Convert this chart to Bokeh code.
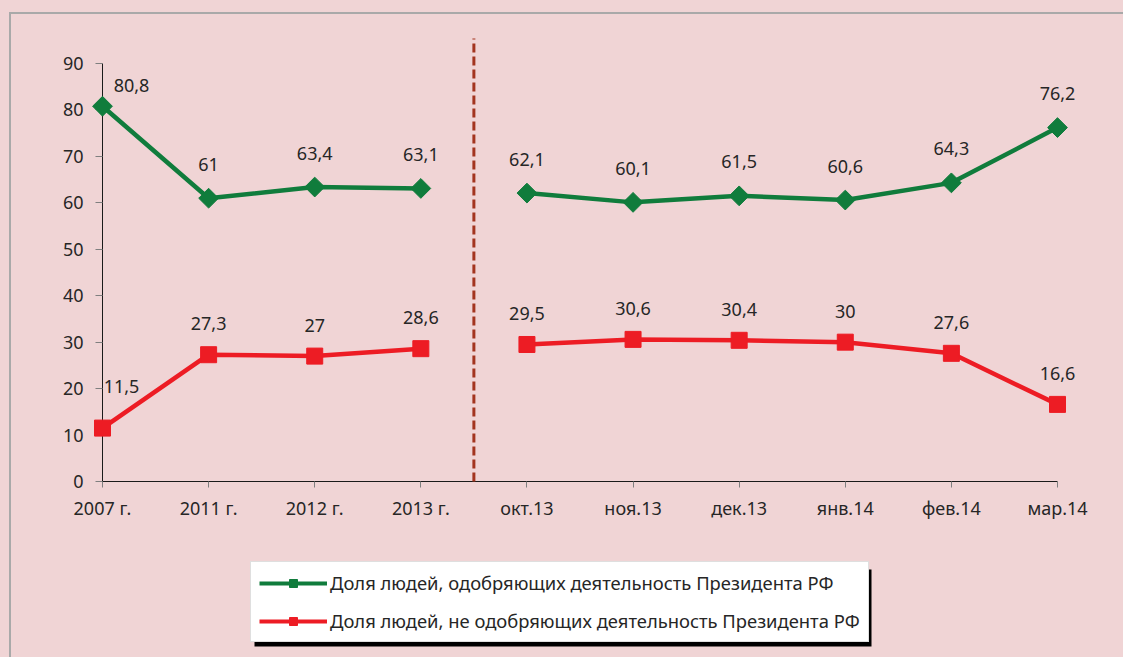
import math
from bokeh.plotting import figure
from bokeh.layouts import column
from bokeh.models import Range1d, FixedTicker, Legend, LegendItem, ColumnDataSource, BoxAnnotation
from bokeh.core.properties import value
from bokeh.embed import file_html
from bokeh.resources import INLINE

# ---------------- data ----------------
categories = ["2007 г.", "2011 г.", "2012 г.", "2013 г.", "окт.13",
              "ноя.13", "дек.13", "янв.14", "фев.14", "мар.14"]
approve = [80.8, 61.0, 63.4, 63.1, 62.1, 60.1, 61.5, 60.6, 64.3, 76.2]
disapprove = [11.5, 27.3, 27.0, 28.6, 29.5, 30.6, 30.4, 30.0, 27.6, 16.6]
approve_name = "Доля людей, одобряющих деятельность Президента РФ"
disapprove_name = "Доля людей, не одобряющих деятельность Президента РФ"
y_ticks = [0, 10, 20, 30, 40, 50, 60, 70, 80, 90]
break_after = 3          # series are interrupted between "2013 г." and "окт.13"

# ---------------- style ----------------
BG = "#F0D4D5"
GREEN = "#107C3C"
RED = "#ED1C24"
DASH = "#A3341F"
TEXT = "#262626"
FONT = "Noto Sans"
FS = "18px"
W = 1120
FRAME_L, FRAME_R = 102, 1057

xs = list(range(len(categories)))


def fmt(v):
    return f"{v:g}".replace(".", ",")


p = figure(width=W, height=535, output_backend="svg", toolbar_location=None,
           x_range=Range1d(0, len(categories) - 1), y_range=Range1d(y_ticks[0], y_ticks[-1]),
           min_border_left=FRAME_L, min_border_right=W - FRAME_R, min_border_top=63,
           min_border_bottom=54,
           background_fill_color=BG, border_fill_color=BG, outline_line_color=None)
p.grid.visible = False

for ax in (p.xaxis[0], p.yaxis[0]):
    ax.minor_tick_line_color = None
    ax.major_tick_in = 0
    ax.axis_line_color = "#1A1A1A"
    ax.axis_line_width = 1
    ax.major_tick_line_color = "#7F7F7F"
    ax.major_label_text_font = FONT
    ax.major_label_text_font_size = FS
    ax.major_label_text_color = TEXT

xa = p.xaxis[0]
xa.ticker = FixedTicker(ticks=xs)
xa.major_label_overrides = {i: c for i, c in enumerate(categories)}
xa.major_tick_out = 6
xa.major_label_standoff = 8

ya = p.yaxis[0]
ya.ticker = FixedTicker(ticks=y_ticks)
ya.major_tick_out = 7
ya.major_label_standoff = 12

# separator between yearly and monthly data
sep_x = break_after + 0.5
p.segment(x0=[sep_x], y0=[0], x1=[sep_x], y1=[95.4], line_color=DASH,
          line_width=3, line_dash="9 4", level="overlay")

# lines (interrupted)
spans = [(0, break_after + 1), (break_after + 1, len(categories))]
for a, b in spans:
    p.line(xs[a:b], approve[a:b], line_color=GREEN, line_width=4.5,
           line_join="round", level="overlay")
    p.line(xs[a:b], disapprove[a:b], line_color=RED, line_width=4.5,
           line_join="round", level="overlay")

p.scatter(xs, approve, marker="square", angle=math.pi / 4, size=14,
          fill_color=GREEN, line_color=GREEN, level="overlay")
p.scatter(xs, disapprove, marker="square", size=16,
          fill_color=RED, line_color=RED, level="overlay")

# data labels
n = len(xs)
g_src = ColumnDataSource(dict(x=xs, y=approve, t=[fmt(v) for v in approve],
                              dx=[29] + [0] * (n - 1), dy=[-21] + [-34] * (n - 1)))
r_src = ColumnDataSource(dict(x=xs, y=disapprove, t=[fmt(v) for v in disapprove],
                              dx=[19] + [0] * (n - 1), dy=[-42] + [-31] * (n - 1)))
for src in (g_src, r_src):
    p.text(x="x", y="y", text="t", x_offset="dx", y_offset="dy", source=src,
           text_align="center", text_baseline="middle", text_font=value(FONT),
           text_font_size=FS, text_color=TEXT, level="overlay")

# ---------------- legend strip (own figure, so the legend is not clipped) ----------------
LH = 119
lf = figure(width=W, height=LH, output_backend="svg", toolbar_location=None,
            x_range=Range1d(0, FRAME_R - FRAME_L), y_range=Range1d(0, LH),
            x_axis_location=None, y_axis_location=None,
            min_border_left=0, min_border_right=0, min_border_top=0, min_border_bottom=0,
            background_fill_color=BG, border_fill_color=BG, outline_line_color=None)
lf.grid.visible = False

# legend proxies: kept outside the visible range of the strip
off_x, off_y = [-50, -40], [-50, -50]
g_l = lf.line(off_x, off_y, line_color=GREEN, line_width=4)
g_m = lf.scatter(off_x[:1], off_y[:1], marker="square", angle=math.pi / 4,
                 fill_color=GREEN, line_color=GREEN)
r_l = lf.line(off_x, off_y, line_color=RED, line_width=4)
r_m = lf.scatter(off_x[:1], off_y[:1], marker="square", fill_color=RED, line_color=RED)

# legend box geometry (strip units are pixels)
lg_x, lg_y = 148, 12
lg_w, lg_h = 617, 77
shadow_off = 4
lf.add_layout(BoxAnnotation(left=lg_x + shadow_off, right=lg_x + lg_w + shadow_off,
                            bottom=lg_y - shadow_off, top=lg_y + lg_h - shadow_off,
                            fill_color="black", fill_alpha=1, line_color=None,
                            editable=False))

main = Legend(items=[LegendItem(label=approve_name, renderers=[g_l, g_m]),
                     LegendItem(label=disapprove_name, renderers=[r_l, r_m])],
              location=(lg_x, lg_y), background_fill_color="white", background_fill_alpha=1,
              border_line_color="#BFBFBF", label_text_color=TEXT,
              glyph_width=68, glyph_height=20, label_height=24, label_standoff=3,
              spacing=13, padding=8, margin=0, label_text_font=FONT,
              label_text_font_size="18.4px")
lf.add_layout(main)

layout = column(p, lf, spacing=0)

html = file_html(layout, INLINE, title="Одобрение деятельности Президента РФ")
frame_div = ('<div style="position:fixed;left:9px;top:12px;width:3000px;height:3000px;'
             'border-left:2px solid #A9A9A9;border-top:2px solid #A9A9A9;'
             'pointer-events:none;z-index:5"></div>')
head_end = html.find("</head>")
body_at = html.find("<body", head_end)
body_close = html.find(">", body_at)
html = (html[:body_at] + '<body style="margin:0;background:%s">' % BG + frame_div
        + html[body_close + 1:])
open("out.html", "w").write(html)
